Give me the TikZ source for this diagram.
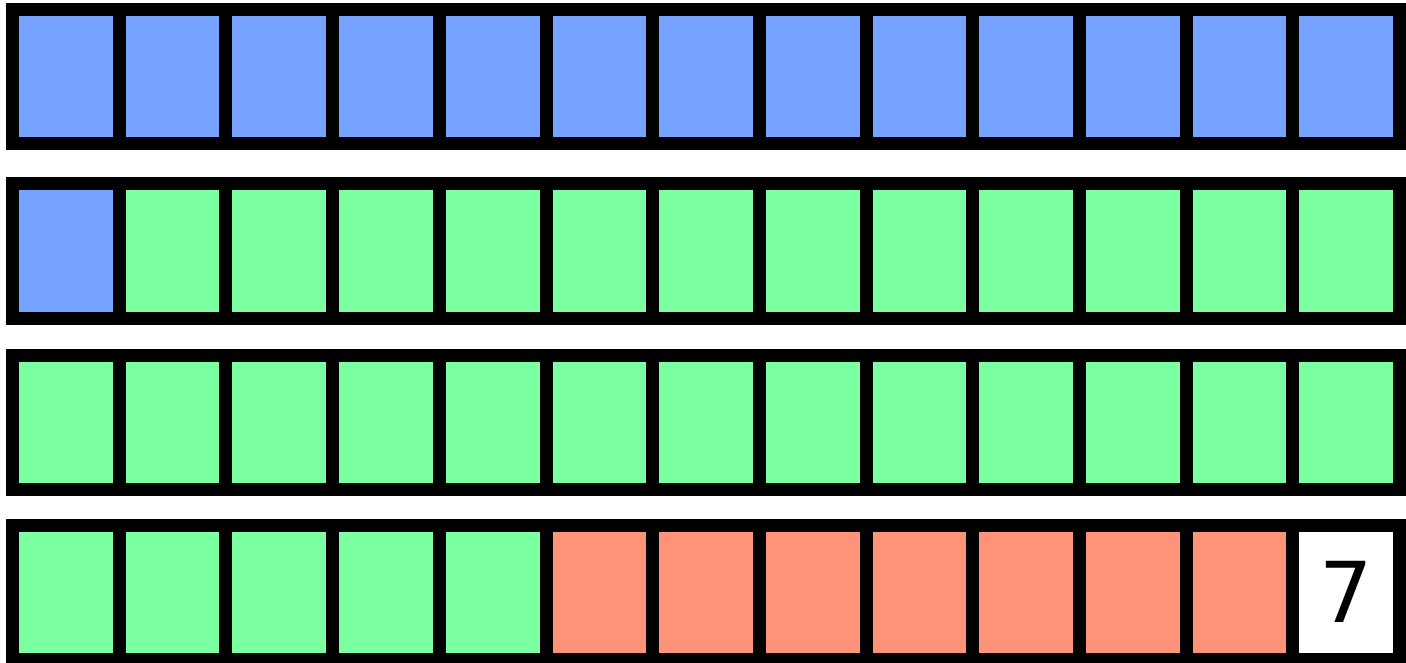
\documentclass[tikz,border=0pt]{standalone}
\usepackage{fontspec}
\newfontfamily\digitfont{DejaVu Sans}
\definecolor{cblue}{RGB}{117,163,255}
\definecolor{cgreen}{RGB}{123,255,160}
\definecolor{cred}{RGB}{255,147,122}
\tikzset{
  cell/.style={draw=black, line width=13pt, rectangle, minimum width=106.7pt, minimum height=134pt, inner sep=0pt, outer sep=0pt},
  bl/.style={cell, fill=cblue},
  gr/.style={cell, fill=cgreen},
  rd/.style={cell, fill=cred},
  wh/.style={cell, fill=white, font=\digitfont\fontsize{84}{84}\selectfont},
}
\begin{document}
\begin{tikzpicture}[x=1pt, y=-1pt]
\useasboundingbox (0,0) rectangle (1406,663);
\def\px{106.7}
% row 1
\foreach \i in {0,...,12} {
  \node[bl] (a\i) at ({12.5+\px*\i+\px/2},76.5) {};
}
% row 2
\node[bl] (b0) at ({12.5+\px/2},251) {};
\foreach \i in {1,...,12} {
  \node[gr] (b\i) at ({12.5+\px*\i+\px/2},251) {};
}
% row 3
\foreach \i in {0,...,12} {
  \node[gr] (c\i) at ({12.5+\px*\i+\px/2},422) {};
}
% row 4
\foreach \i in {0,...,4} {
  \node[gr] (d\i) at ({12.5+\px*\i+\px/2},592) {};
}
\foreach \i in {5,...,11} {
  \node[rd] (d\i) at ({12.5+\px*\i+\px/2},592) {};
}
\node[wh] (d12) at ({12.5+\px*12+\px/2},592) {7};
\end{tikzpicture}
\end{document}
